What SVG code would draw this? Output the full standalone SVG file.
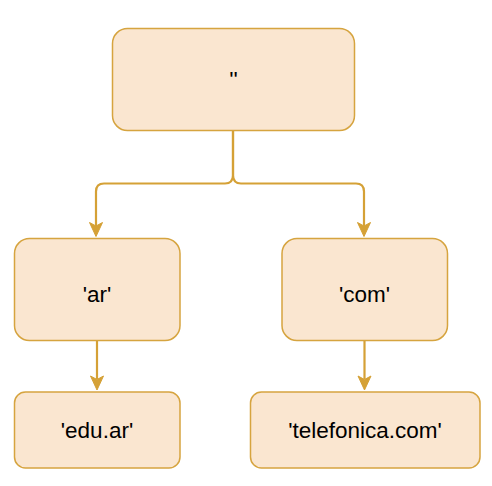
<svg xmlns="http://www.w3.org/2000/svg" width="492" height="486" viewBox="0 0 492 486">
<style>
.n{fill:#fae6d0;stroke:#d6a43f;stroke-width:1.5}
.t{font-family:"Liberation Sans",Arial,sans-serif;font-size:22.5px;fill:#000;text-anchor:middle}
.e{fill:none;stroke:#d5a136;stroke-width:2.2}
.h{fill:#d5a136;stroke:#d5a136;stroke-width:1}
</style>
<rect width="492" height="486" fill="#fff"/>
<g id="connectors">
<path class="e" d="M233 130.5 V175 Q233 183.5 225 183.5 H104 Q96 183.5 96 191.5 V226"/>
<path class="e" d="M233 130.5 V175 Q233 183.5 241 183.5 H356 Q364 183.5 364 191.5 V226"/>
<path class="e" d="M97 340.5 V379"/>
<path class="e" d="M364.5 340.5 V379"/>
<path class="h" d="M96 236.5 L89.5 222.5 L96 226 L102.5 222.5 Z"/>
<path class="h" d="M364 236.5 L357.5 222.5 L364 226 L370.5 222.5 Z"/>
<path class="h" d="M97 390 L90.5 376 L97 379.5 L103.5 376 Z"/>
<path class="h" d="M364.5 390 L358 376 L364.5 379.5 L371 376 Z"/>
</g>
<g id="root">
<rect class="n" x="112.5" y="28.5" width="242" height="102" rx="15"/>
<text class="t" x="233.5" y="87">''</text>
</g>
<g id="ar">
<rect class="n" x="14.5" y="238.5" width="165.5" height="102" rx="15"/>
<text class="t" x="97" y="301.5">'ar'</text>
</g>
<g id="com">
<rect class="n" x="282" y="238.5" width="165.5" height="102" rx="15"/>
<text class="t" x="364.5" y="301.5">'com'</text>
</g>
<g id="eduar">
<rect class="n" x="14.5" y="392" width="165.5" height="76" rx="11"/>
<text class="t" x="97" y="438">'edu.ar'</text>
</g>
<g id="telefonica">
<rect class="n" x="250.5" y="392" width="229.5" height="76" rx="11"/>
<text class="t" x="365" y="438">'telefonica.com'</text>
</g>
</svg>
